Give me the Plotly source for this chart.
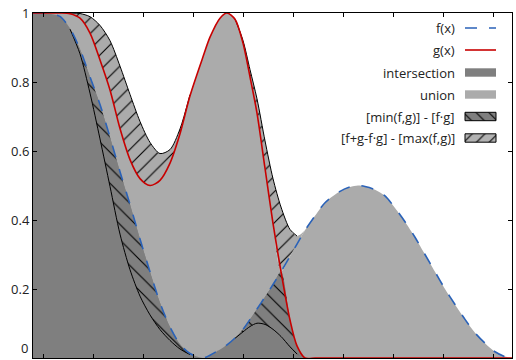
import numpy as np
import plotly.graph_objects as go

# ---- data ----
x = [-0.2, -0.06, 0.14, 0.34, 0.54, 0.74, 0.94, 1.14, 1.34, 1.54, 1.74, 1.94, 2.14, 2.34,
     2.54, 2.74, 2.94, 3.2, 3.34, 3.54, 3.68, 3.84, 4.0, 4.14, 4.28, 4.44, 4.6, 4.76, 4.94,
     5.08, 5.24, 5.44, 5.64, 5.94, 6.14, 6.3, 6.44, 6.64, 6.84, 7.04, 7.24, 7.44, 7.64, 7.84,
     8.04, 8.24, 8.44, 8.64, 8.84, 9.04, 9.24, 9.38]
f_vals = [1.0, 1.0, 0.998, 0.99, 0.955, 0.895, 0.815, 0.735, 0.64, 0.54, 0.445, 0.345, 0.25,
          0.16, 0.09, 0.04, 0.013, 0.0, 0.008, 0.025, 0.038, 0.058, 0.083, 0.112, 0.142, 0.177,
          0.213, 0.25, 0.295, 0.33, 0.37, 0.412, 0.45, 0.483, 0.496, 0.5, 0.497, 0.488, 0.47,
          0.435, 0.395, 0.35, 0.30, 0.25, 0.20, 0.155, 0.112, 0.073, 0.043, 0.018, 0.004, 0.0]
g_vals = [1.0, 1.0, 1.0, 1.0, 0.998, 0.985, 0.942, 0.864, 0.777, 0.665, 0.575, 0.52, 0.5,
          0.515, 0.565, 0.65, 0.76, 0.873, 0.93, 0.985, 1.0, 0.982, 0.913, 0.815, 0.71, 0.55,
          0.39, 0.25, 0.11, 0.035, 0.0, 0.0, 0.0, 0.0, 0.0, 0.0, 0.0, 0.0, 0.0, 0.0, 0.0, 0.0,
          0.0, 0.0, 0.0, 0.0, 0.0, 0.0, 0.0, 0.0, 0.0, 0.0]
y_ticks = [0, 0.2, 0.4, 0.6, 0.8, 1]
y_tick_labels = ["0", "0.2", "0.4", "0.6", "0.8", "1"]
legend_labels = ["f(x)", "g(x)", "intersection", "union",
                 "[min(f,g)] - [f·g]", "[f+g-f·g] - [max(f,g)]"]

f = np.array(f_vals)
g = np.array(g_vals)
lo = np.minimum(f, g)
hi = np.maximum(f, g)
prod = f * g
psum = f + g - f * g

# ---- styles ----
BLUE = "#2a62b8"
RED = "#c80000"
DARK = "#7f7f7f"
LIGHT = "#ababab"
FONT = "Open Sans"
SM = 0.8

fig = go.Figure()
common = dict(x=x, mode="lines", line_shape="spline", showlegend=False, hoverinfo="skip")

# union
fig.add_trace(go.Scatter(y=hi, fill="tozeroy", fillcolor=LIGHT,
                         line=dict(width=0, smoothing=SM), **common))
# intersection
fig.add_trace(go.Scatter(y=lo, fill="tozeroy", fillcolor=DARK,
                         line=dict(width=0, smoothing=SM), **common))
# [min(f,g)] - [f*g]
fig.add_trace(go.Scatter(y=prod, line=dict(width=0, smoothing=SM), **common))
fig.add_trace(go.Scatter(y=lo, fill="tonexty", fillcolor=DARK,
                         fillpattern=dict(shape="\\", fgcolor="black", bgcolor=DARK,
                                          size=11, solidity=0.1, fillmode="replace"),
                         line=dict(width=0, smoothing=SM), **common))
# [f+g-f*g] - [max(f,g)]
fig.add_trace(go.Scatter(y=hi, line=dict(width=0, smoothing=SM), **common))
fig.add_trace(go.Scatter(y=psum, fill="tonexty", fillcolor=LIGHT,
                         fillpattern=dict(shape="/", fgcolor="black", bgcolor=LIGHT,
                                          size=11, solidity=0.1, fillmode="replace"),
                         line=dict(width=0, smoothing=SM), **common))
# black borders of the hatched regions (only where they have thickness)
eps = 1e-3
prod_border = np.where(lo - prod > eps, prod, np.nan)
psum_border = np.where(psum - hi > eps, psum, np.nan)
fig.add_trace(go.Scatter(y=prod_border, line=dict(color="black", width=1, smoothing=SM),
                         connectgaps=False, **common))
fig.add_trace(go.Scatter(y=psum_border, line=dict(color="black", width=1, smoothing=SM),
                         connectgaps=False, **common))
# f and g
fig.add_trace(go.Scatter(y=f, line=dict(color=BLUE, width=1.6, dash="12px,12px", smoothing=SM),
                         **common))
fig.add_trace(go.Scatter(y=g, line=dict(color=RED, width=1.6, smoothing=SM), **common))

# ---- manual legend (text left of the key, as in the reference) ----
row_y = [28, 50, 72.5, 94.5, 116.5, 138]
kx0, kx1, tx = 465, 496, 457
hh = 4.2
leg = dict(xaxis="x2", yaxis="y2", showlegend=False, hoverinfo="skip")
fig.add_trace(go.Scatter(x=[kx0, kx1], y=[row_y[0]] * 2, mode="lines",
                         line=dict(color=BLUE, width=1.6, dash="12px,12px"), **leg))
fig.add_trace(go.Scatter(x=[kx0, kx1], y=[row_y[1]] * 2, mode="lines",
                         line=dict(color=RED, width=1.6), **leg))
box_x = [kx0, kx1, kx1, kx0, kx0]
for i, (col, pat) in enumerate([(DARK, None), (LIGHT, None), (DARK, "\\"), ("#b2b2b2", "/")]):
    yc = row_y[i + 2]
    by = [yc - hh, yc - hh, yc + hh, yc + hh, yc - hh]
    kw = {}
    if pat:
        kw["fillpattern"] = dict(shape=pat, fgcolor="black", bgcolor=col, size=9,
                                 solidity=0.12, fillmode="replace")
        ln = dict(color="black", width=1)
    else:
        ln = dict(width=0)
    fig.add_trace(go.Scatter(x=box_x, y=by, mode="lines", fill="toself", fillcolor=col,
                             line=ln, **kw, **leg))

for lab, yc in zip(legend_labels, row_y):
    fig.add_annotation(x=tx, y=yc, xref="x2", yref="y2", text=lab, showarrow=False,
                       xanchor="right", yanchor="middle",
                       font=dict(family=FONT, size=13, color="#222"))

# the "0" label sits on the cropped bottom edge; plotly drops it, so place it as text,
# nudged up just enough to stay fully inside the picture
shown_labels = ["" if v == 0 else t for v, t in zip(y_ticks, y_tick_labels)]
fig.add_annotation(x=0, y=y_ticks[0], xref="paper", yref="y", text=y_tick_labels[0],
                   showarrow=False, xanchor="right", yanchor="bottom", xshift=-3, yshift=-1,
                   font=dict(family=FONT, size=13, color="#222"))

axis_common = dict(showline=True, linecolor="black", linewidth=1, mirror="ticks",
                   ticks="inside", ticklen=4, tickcolor="black", showgrid=False,
                   zeroline=False)
fig.update_layout(
    width=516, height=360,
    margin=dict(l=33, r=4, t=13, b=2, autoexpand=False),
    paper_bgcolor="white", plot_bgcolor="white",
    xaxis=dict(range=[-0.2, 9.38], tick0=0, dtick=1, showticklabels=False,
               automargin=False, **axis_common),
    yaxis=dict(range=[0, 1], tickvals=y_ticks, ticktext=shown_labels, automargin=False,
               tickfont=dict(family=FONT, size=13, color="#222"), **axis_common),
    xaxis2=dict(overlaying="x", range=[33, 512], visible=False, anchor="y2"),
    yaxis2=dict(overlaying="y", range=[358, 13], visible=False, anchor="x2"),
)

fig.write_html("out.html", config={"displayModeBar": False},
               post_script="document.body.style.margin='0';document.body.style.padding='0';")
